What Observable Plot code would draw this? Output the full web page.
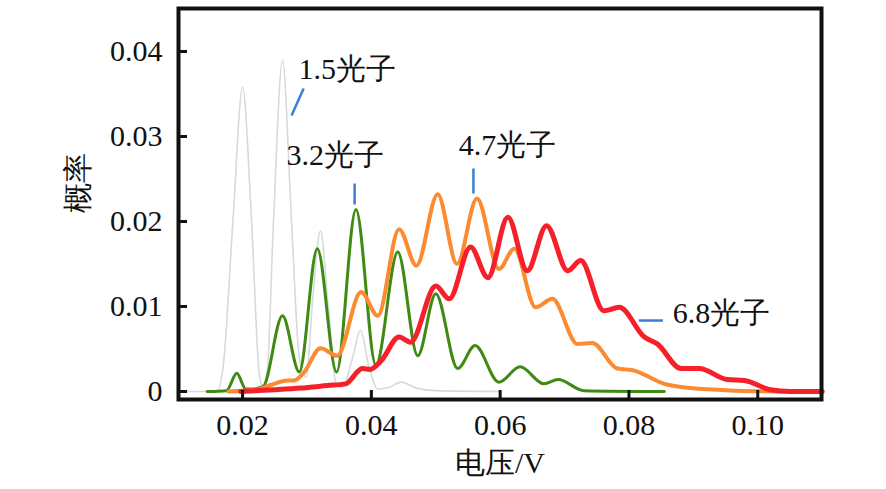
<!DOCTYPE html>
<html><head><meta charset="utf-8">
<script src="https://cdn.jsdelivr.net/npm/d3@7"></script>
<script src="https://cdn.jsdelivr.net/npm/@observablehq/plot@0.6"></script>
<style>
body{margin:0;background:#fff;}
</style></head><body><div id="chart"></div>
<script>
// 1.5 photons (gray)
const grayX = [0.0105,0.016,0.0170,0.0185,0.0200,0.0214,0.0226,0.0232,0.0238,0.0248,0.0262,0.0276,0.0288,0.0299,0.0309,0.0321,0.0333,0.0345,0.0355,0.0371,0.0383,0.0396,0.0410,0.0428,0.0446,0.0470,0.0500,0.0600];
const grayY = [0,0,0.003,0.020,0.0358,0.020,0.002,0.0005,0.002,0.020,0.039,0.020,0.004,0.0017,0.011,0.0189,0.010,0.001,0.0005,0.004,0.0072,0.003,0.0003,0.0005,0.0011,0.0004,0.0001,0];
// 3.2 photons (green)
const greenX = [0.0145,0.0175,0.0191,0.0205,0.0215,0.0232,0.0262,0.0288,0.0316,0.0346,0.0376,0.0407,0.0441,0.0472,0.0500,0.0534,0.0561,0.0598,0.0631,0.0668,0.0690,0.0730,0.0855];
const greenY = [0,0.0001,0.00215,0.0003,0.0003,0.0006,0.0089,0.0023,0.0168,0.0023,0.0214,0.0031,0.0164,0.0042,0.0115,0.0027,0.0054,0.0011,0.0029,0.0009,0.0014,0.0001,0];
// 4.7 photons (orange)
const orangeX = [0.0178,0.0220,0.0245,0.0269,0.0280,0.0295,0.0321,0.0347,0.0384,0.0410,0.0443,0.0470,0.0503,0.0533,0.0564,0.0598,0.0622,0.0655,0.0681,0.0720,0.0743,0.0782,0.0806,0.0855,0.0896,0.0969,0.1040];
const orangeY = [0,0.0002,0.0008,0.0013,0.0013,0.0022,0.0051,0.0042,0.0117,0.0089,0.0191,0.0148,0.0232,0.0150,0.0227,0.0144,0.0168,0.0099,0.0109,0.0056,0.0057,0.0027,0.0025,0.0009,0.0004,0.0001,0];
// 6.8 photons (red)
const redX = [0.0197,0.0248,0.0290,0.0332,0.0360,0.0386,0.0398,0.0415,0.0443,0.0461,0.0500,0.0521,0.0554,0.0581,0.0612,0.0642,0.0672,0.0705,0.0725,0.0761,0.0785,0.0824,0.0844,0.0881,0.0909,0.0953,0.0979,0.1020,0.1050,0.1100];
const redY = [0,0.0002,0.0004,0.0007,0.0009,0.0027,0.0026,0.0036,0.0064,0.0058,0.0124,0.0109,0.0170,0.0134,0.0205,0.0142,0.0195,0.0142,0.0154,0.0095,0.0099,0.0064,0.0056,0.0027,0.0027,0.0014,0.0013,0.0002,0,0];

const xTicks = [0.02,0.04,0.06,0.08,0.10];
const yTicks = [0,0.01,0.02,0.03,0.04];
const xTickText = ["0.02","0.04","0.06","0.08","0.10"];
const yTickText = ["0","0.01","0.02","0.03","0.04"];

const labelText = ["1.5光子","3.2光子","4.7光子","6.8光子"];
const labelX = [0.0287,0.02684,0.05357,0.08682];
const labelY = [0.0379,0.02776,0.02894,0.00918];
const leaderX1 = [0.02948,0.0374,0.05585,0.08154];
const leaderY1 = [0.03565,0.02447,0.02624,0.00835];
const leaderX2 = [0.02761,0.0374,0.05585,0.08527];
const leaderY2 = [0.03247,0.0220,0.02329,0.00835];

const toPts = (xs, ys) => xs.map((x, i) => ({x, y: ys[i]}));
const labels = labelText.map((t, i) => ({t, x: labelX[i], y: labelY[i]}));
const leaders = leaderX1.map((x1, i) => ({x1, y1: leaderY1[i], x2: leaderX2[i], y2: leaderY2[i]}));
const xT = xTicks.map((v, i) => ({v, t: xTickText[i]}));
const yT = yTicks.map((v, i) => ({v, t: yTickText[i]}));

const chart = Plot.plot({
  width: 886, height: 489,
  marginTop: 8, marginRight: 65, marginBottom: 90, marginLeft: 178,
  x: {domain: [0.01005, 0.1099], axis: null},
  y: {domain: [-0.00094, 0.04506], axis: null},
  marks: [
    Plot.line(toPts(grayX, grayY), {x: "x", y: "y", stroke: "#d6dada", strokeWidth: 1.6, curve: "monotone-x"}),
    Plot.line(toPts(greenX, greenY), {x: "x", y: "y", stroke: "#3f8a12", strokeWidth: 3, curve: "monotone-x"}),
    Plot.line(toPts(orangeX, orangeY), {x: "x", y: "y", stroke: "#fb8a30", strokeWidth: 4, curve: "monotone-x"}),
    Plot.line(toPts(redX, redY), {x: "x", y: "y", stroke: "#f5202a", strokeWidth: 5, curve: "monotone-x"}),
    Plot.link(leaders, {x1: "x1", y1: "y1", x2: "x2", y2: "y2", stroke: "#3a7fd5", strokeWidth: 2.5}),
    Plot.text(labels, {x: "x", y: "y", text: "t", textAnchor: "start", lineAnchor: "middle", fontSize: 30, fontFamily: "serif", fill: "#111"}),
    Plot.tickX(xT, {x: "v", stroke: "#111", strokeWidth: 3, insetTop: 382}),
    Plot.text(xT, {x: "v", text: "t", frameAnchor: "bottom", dy: 26, lineAnchor: "middle", fontSize: 30, fontFamily: "serif", fill: "#111"}),
    Plot.tickY(yT, {y: "v", stroke: "#111", strokeWidth: 3, insetRight: 634}),
    Plot.text(yT, {y: "v", text: "t", frameAnchor: "left", dx: -16, textAnchor: "end", lineAnchor: "middle", fontSize: 30, fontFamily: "serif", fill: "#111"}),
    Plot.frame({stroke: "#111", strokeWidth: 4}),
    Plot.text(["电压/V"], {frameAnchor: "bottom", dy: 64, fontSize: 30, fontFamily: "serif", fill: "#111", lineAnchor: "middle"}),
    Plot.text(["概率"], {frameAnchor: "left", dx: -100, dy: 9, rotate: -90, fontSize: 30, fontFamily: "serif", fill: "#111", lineAnchor: "middle"})
  ]
});
document.getElementById("chart").appendChild(chart);
</script></body></html>
